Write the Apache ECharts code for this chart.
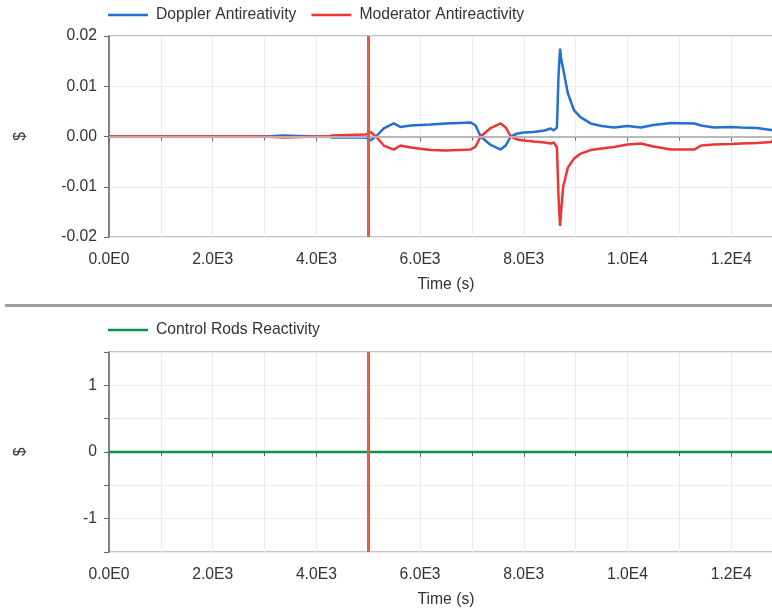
<!DOCTYPE html>
<html>
<head>
<meta charset="utf-8">
<script src="https://cdn.jsdelivr.net/npm/echarts@6/dist/echarts.min.js"></script>
<style>html,body{margin:0;padding:0;background:#fff}#c{width:772px;height:609px}</style>
</head>
<body>
<div id="c"></div>
<script>
// ---- data (time in s, reactivity in $) ----
var time = [0, 3000, 3010, 3370, 3380, 3950, 4000, 4250, 4300, 4950, 5040, 5150, 5300, 5490, 5620, 5820, 6200, 6500, 6975, 7070, 7170, 7350, 7555, 7650, 7750, 7880, 8000, 8190, 8400, 8520, 8580, 8640, 8670, 8700, 8720, 8760, 8850, 8970, 9100, 9290, 9500, 9740, 10000, 10260, 10500, 10840, 11290, 11420, 11670, 12000, 12190, 12500, 12770, 12800];
var doppler = [0, 0, 0.0002, 0.0002, 0, 0, 0, 0, -0.0002, -0.0002, -0.0008, 0, 0.0016, 0.0026, 0.0019, 0.0022, 0.0024, 0.0026, 0.0028, 0.0022, 0, -0.0016, -0.0026, -0.0018, 0, 0.0006, 0.0008, 0.0009, 0.0012, 0.0016, 0.0012, 0.0018, 0.012, 0.0175, 0.0155, 0.0135, 0.0086, 0.0052, 0.0038, 0.0026, 0.0021, 0.0018, 0.0021, 0.0018, 0.0023, 0.0027, 0.0026, 0.0022, 0.0018, 0.0019, 0.0018, 0.0017, 0.0013, 0.0012];
var moderator = [0, 0, -0.0002, -0.0002, 0, 0, 0, 0, 0.0002, 0.0004, 0.0009, 0, -0.0018, -0.0026, -0.0018, -0.0022, -0.0027, -0.0028, -0.0026, -0.0020, 0, 0.0016, 0.0026, 0.0018, 0, -0.0006, -0.0008, -0.0010, -0.0012, -0.0014, -0.0012, -0.0022, -0.012, -0.0178, -0.0150, -0.0100, -0.0062, -0.0044, -0.0034, -0.0027, -0.0024, -0.0021, -0.0016, -0.0014, -0.0020, -0.0026, -0.0026, -0.0018, -0.0016, -0.0015, -0.0014, -0.0013, -0.0011, -0.0008];
var rodTime = [0, 12800];
var rodValues = [0, 0];
var eventTime = 5000;
var topTicks = [-0.02, -0.01, 0, 0.01, 0.02];
var bottomTicks = [-1, 0, 1];

function pairs(xs, ys) { return xs.map(function (x, i) { return [x, ys[i]]; }); }
function sci(v) {
  if (v === 0) return '0.0E0';
  var e = Math.floor(Math.log10(Math.abs(v)) + 1e-9);
  return (v / Math.pow(10, e)).toFixed(1) + 'E' + e;
}
var txt = '#333';
var axisCol = '#666';
var font = '"Liberation Sans", Arial, sans-serif';
var fs = 15.7;

function xAxisCfg(gi) {
  return {
    type: 'value', gridIndex: gi, min: 0, max: 13000, interval: 2000,
    name: 'Time (s)', nameLocation: 'middle', nameGap: 40,
    nameTextStyle: { color: txt, fontSize: fs, fontFamily: font },
    axisLine: { show: true, lineStyle: { color: axisCol, width: 1.5 } },
    axisTick: { show: true, length: 5, lineStyle: { color: axisCol } },
    minorTick: { show: true, splitNumber: 2, length: 4, lineStyle: { color: axisCol } },
    axisLabel: { color: txt, fontSize: fs, fontFamily: font, margin: 15, formatter: function (v) { return v > 12800 ? '' : sci(v); } },
    splitLine: { show: true, lineStyle: { color: '#ececec' } },
    minorSplitLine: { show: true, lineStyle: { color: '#ececec' } }
  };
}

var legendBase = { itemWidth: 40, itemHeight: 2.5, itemGap: 15, icon: 'rect',
  textStyle: { color: txt, fontSize: fs, fontFamily: font, padding: [0, 0, 0, 3] } };

var option = {
  animation: false,
  backgroundColor: '#fff',
  graphic: [{ type: 'rect', shape: { x: 5, y: 304, width: 767, height: 3 }, style: { fill: '#9e9e9e' }, silent: true }],
  legend: [
    Object.assign({ left: 103, top: 2, data: ['Doppler Antireativity', 'Moderator Antireactivity'] }, legendBase),
    Object.assign({ left: 103, top: 317, data: ['Control Rods Reactivity'] }, legendBase)
  ],
  grid: [
    { left: 109, top: 36, width: 674, height: 201, show: true, borderColor: '#888', borderWidth: 1, outerBoundsMode: 'none', containLabel: false },
    { left: 109, top: 352, width: 674, height: 200, show: true, borderColor: '#888', borderWidth: 1, outerBoundsMode: 'none', containLabel: false }
  ],
  xAxis: [xAxisCfg(0), xAxisCfg(1)],
  yAxis: [
    { type: 'value', gridIndex: 0, min: topTicks[0], max: topTicks[topTicks.length - 1], interval: 0.01,
      name: '$', nameLocation: 'middle', nameGap: 80, nameTextStyle: { color: txt, fontSize: fs, fontFamily: font },
      axisLine: { show: true, lineStyle: { color: axisCol, width: 1.5 } },
      axisTick: { show: true, length: 5, lineStyle: { color: axisCol } },
      axisLabel: { color: txt, fontSize: fs, fontFamily: font, margin: 12, formatter: function (v) { return v.toFixed(2); } },
      splitLine: { show: true, lineStyle: { color: '#ececec' } } },
    { type: 'value', gridIndex: 1, min: -1.5, max: 1.5, interval: 0.5,
      name: '$', nameLocation: 'middle', nameGap: 80, nameTextStyle: { color: txt, fontSize: fs, fontFamily: font },
      axisLine: { show: true, lineStyle: { color: axisCol, width: 1.5 } },
      axisTick: { show: true, length: 5, lineStyle: { color: axisCol } },
      axisLabel: { color: txt, fontSize: fs, fontFamily: font, margin: 12,
        formatter: function (v) { return bottomTicks.indexOf(v) >= 0 ? String(v) : ''; } },
      splitLine: { show: true, lineStyle: { color: '#ececec' } } }
  ],
  series: [
    { name: 'Doppler Antireativity', type: 'line', xAxisIndex: 0, yAxisIndex: 0, data: pairs(time, doppler),
      showSymbol: false, symbol: 'none', color: '#2470d0', lineStyle: { width: 2.5, color: '#2470d0' },
      markLine: { silent: true, symbol: 'none', label: { show: false }, lineStyle: { color: '#c8c8c8', width: 1.5, type: 'solid' }, data: [{ yAxis: 0 }] },
      z: 3 },
    { name: 'Moderator Antireactivity', type: 'line', xAxisIndex: 0, yAxisIndex: 0, data: pairs(time, moderator),
      showSymbol: false, symbol: 'none', color: '#ef3434', lineStyle: { width: 2.5, color: '#ef3434' }, z: 4 },
    { name: 'event0', type: 'line', xAxisIndex: 0, yAxisIndex: 0, data: [], z: 10,
      markLine: { silent: true, symbol: 'none', label: { show: false }, lineStyle: { color: '#ea5a3d', width: 3, type: 'solid' }, data: [{ xAxis: eventTime }] } },
    { name: 'Control Rods Reactivity', type: 'line', xAxisIndex: 1, yAxisIndex: 1, data: pairs(rodTime, rodValues),
      showSymbol: false, symbol: 'none', color: '#128e52', lineStyle: { width: 2.5, color: '#128e52' }, z: 3 },
    { name: 'event1', type: 'line', xAxisIndex: 1, yAxisIndex: 1, data: [], z: 10,
      markLine: { silent: true, symbol: 'none', label: { show: false }, lineStyle: { color: '#ea5a3d', width: 3, type: 'solid' }, data: [{ xAxis: eventTime }] } }
  ]
};
var chart = echarts.init(document.getElementById('c'), null, { renderer: 'canvas' });
chart.setOption(option);
</script>
</body>
</html>
